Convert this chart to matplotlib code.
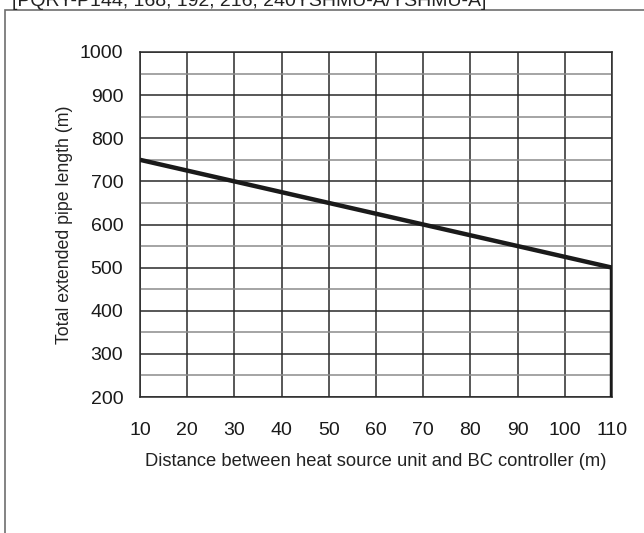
import matplotlib
matplotlib.use('Agg')
from matplotlib import pyplot as plt
from matplotlib.patches import Rectangle
from matplotlib.ticker import MultipleLocator

plt.rcParams['font.family'] = ['Liberation Sans', 'DejaVu Sans']

# data
dist = [10, 110, 110]
total_len = [750, 500, 200]
x_ticks = [10, 20, 30, 40, 50, 60, 70, 80, 90, 100, 110]
y_ticks = [200, 300, 400, 500, 600, 700, 800, 900, 1000]
header = '[PQRY-P144, 168, 192, 216, 240YSHMU-A/YSHMU-A]'

fig = plt.figure(figsize=(6.44, 5.33), dpi=100)

# outer frame (runs off right and bottom edges)
fig.patches.append(Rectangle((5 / 644, -0.1), 1.0, 1.1 - 10 / 533,
                             transform=fig.transFigure, fill=False,
                             edgecolor='#6e6e6e', lw=1.2))
fig.text(12 / 644, 1 - 6 / 533, header, fontsize=14, va='baseline',
         ha='left', color='#222222')

ax = fig.add_axes([140 / 644, 1 - 397 / 533, (612 - 140) / 644, (397 - 52) / 533])
ax.set_xlim(10, 110)
ax.set_ylim(200, 1000)
ax.set_xticks(x_ticks)
ax.set_yticks(y_ticks)
ax.yaxis.set_minor_locator(MultipleLocator(50))

ax.grid(True, which='major', color='#2a2a2a', lw=1.1)
ax.grid(True, which='minor', axis='y', color='#8c8c8c', lw=1.1)
ax.set_axisbelow(True)

ax.plot(dist, total_len, color='#1a1a1a', lw=3.2, solid_capstyle='butt',
        solid_joinstyle='miter', zorder=3)

for s in ax.spines.values():
    s.set_color('#2a2a2a')
    s.set_linewidth(1.1)

ax.tick_params(which='both', length=0, labelsize=14, colors='#1a1a1a')
ax.tick_params(axis='x', pad=18)
ax.tick_params(axis='y', pad=12)

ax.set_xlabel('Distance between heat source unit and BC controller (m)',
              fontsize=13.2, color='#222222', labelpad=10)
ax.set_ylabel('Total extended pipe length (m)', fontsize=12.8,
              color='#222222', labelpad=5)

fig.savefig('out.png', dpi=100)
